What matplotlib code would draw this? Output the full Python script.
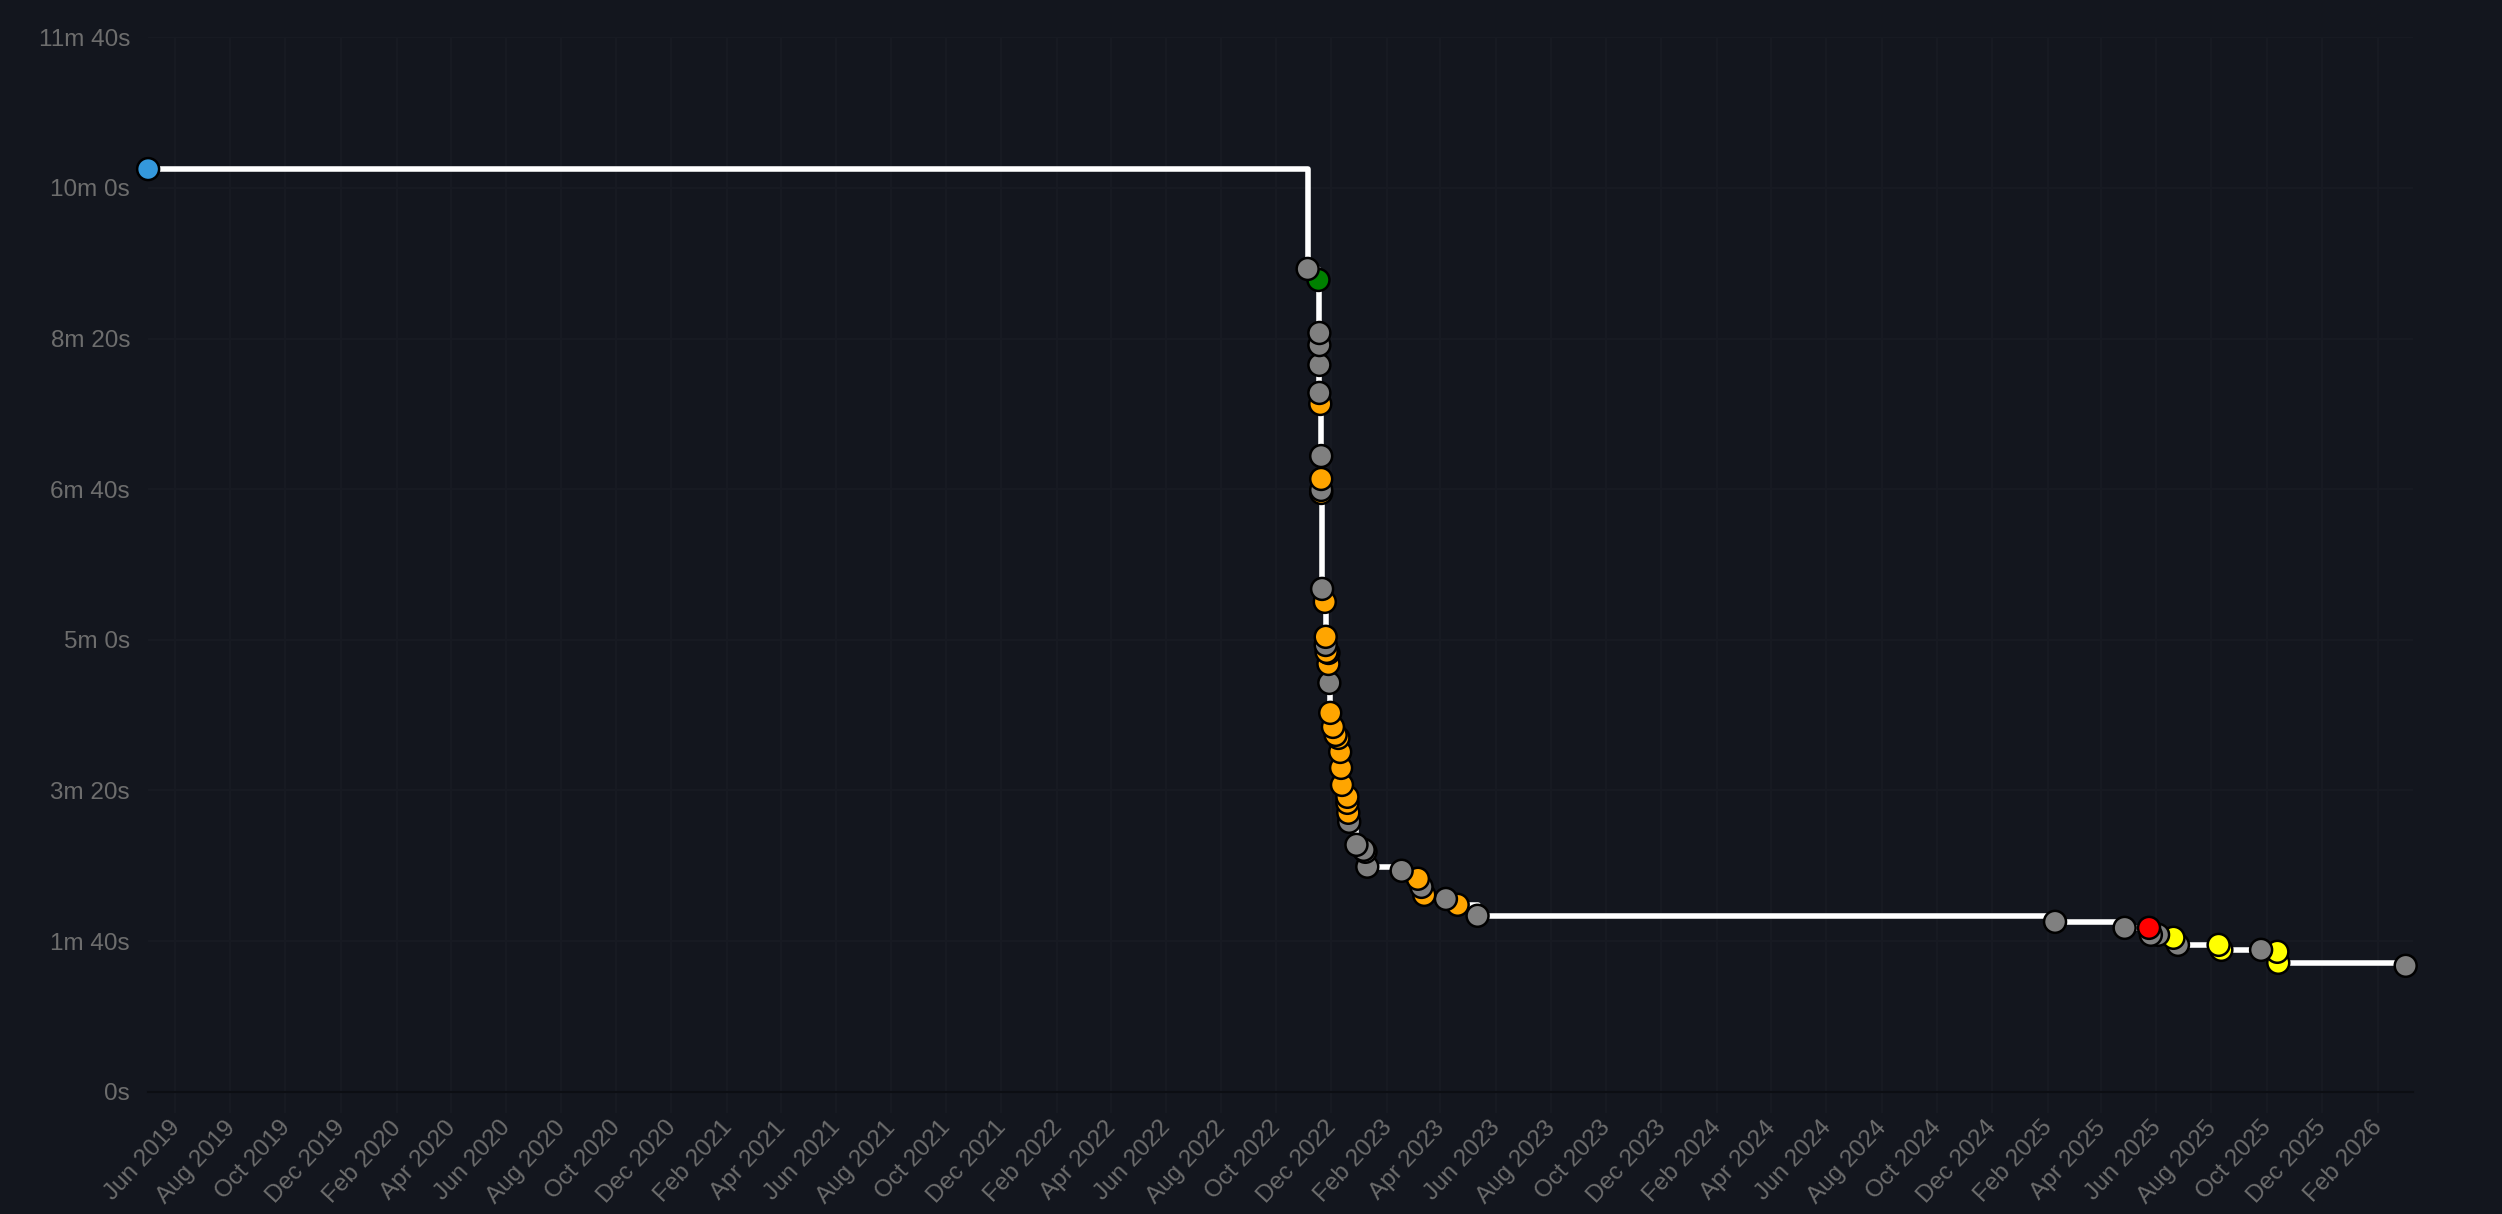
import matplotlib
matplotlib.use("Agg")
import matplotlib.pyplot as plt
import matplotlib.dates as mdates
import matplotlib.transforms as mtransforms
from matplotlib.ticker import FuncFormatter, MultipleLocator
import pandas as pd

# record progression (date, time in seconds, marker colour)
dates = [
    "2019-05-02", "2022-11-05", "2022-11-17", "2022-11-18", "2022-11-18",
    "2022-11-18", "2022-11-18", "2022-11-19", "2022-11-20", "2022-11-20",
    "2022-11-20", "2022-11-20", "2022-11-21", "2022-11-24", "2022-11-25",
    "2022-11-25", "2022-11-26", "2022-11-28", "2022-11-28", "2022-11-29",
    "2022-11-30", "2022-12-03", "2022-12-06", "2022-12-09", "2022-12-11",
    "2022-12-12", "2022-12-13", "2022-12-19", "2022-12-19", "2022-12-20",
    "2022-12-21", "2022-12-29", "2023-01-06", "2023-01-08", "2023-01-10",
    "2023-02-17", "2023-03-07", "2023-03-11", "2023-03-14", "2023-04-07",
    "2023-04-20", "2023-05-12", "2025-02-09", "2025-04-27", "2025-05-24",
    "2025-05-26", "2025-06-03", "2025-06-20", "2025-06-25", "2025-08-09",
    "2025-08-12", "2025-09-25", "2025-10-13", "2025-10-14", "2026-03-04",
]
times = [
    612.5, 546.2, 538.9, 503.7, 495.7,
    482.5, 463.9, 456.6, 422.0, 406.8,
    399.5, 397.5, 333.8, 325.2, 302.0,
    296.6, 292.0, 291.3, 284.0, 271.4,
    251.5, 242.2, 236.9, 234.9, 225.6,
    215.0, 203.7, 195.8, 191.8, 185.2,
    179.2, 163.9, 160.6, 159.3, 149.4,
    146.7, 141.4, 136.0, 130.7, 128.0,
    124.1, 116.8, 112.8, 108.8, 108.8,
    104.2, 104.2, 102.2, 97.5, 97.5,
    94.2, 94.2, 92.9, 85.6, 83.6,
]
colors = [
    "#3498db", "grey", "green", "grey", "grey",
    "grey", "grey", "orange", "grey", "orange",
    "grey", "orange", "grey", "orange", "orange",
    "grey", "orange", "grey", "orange", "grey",
    "orange", "orange", "orange", "orange", "orange",
    "orange", "orange", "orange", "orange", "orange",
    "grey", "grey", "grey", "grey", "grey",
    "grey", "orange", "grey", "orange", "grey",
    "orange", "grey", "grey", "grey", "red",
    "grey", "grey", "yellow", "grey", "yellow",
    "yellow", "grey", "yellow", "yellow", "grey",
]
x_end = "2026-03-12"

bg = "#13161e"
grid_col = "#181b23"
text_col = "#6d6d6d"

plt.rcParams["font.family"] = ["Liberation Sans", "DejaVu Sans"]

x = pd.to_datetime(dates)

fig = plt.figure(figsize=(25.02, 12.14), dpi=100, facecolor=bg)
ax = fig.add_axes([0.0592, 0.1007, 0.9052, 0.8686], facecolor=bg)

ax.plot(x, times, color="white", linewidth=4, drawstyle="steps-post", zorder=2)
# earlier records sit on top of later ones
ax.scatter(x[::-1], times[::-1], c=colors[::-1], s=250, edgecolors="black",
           linewidths=1.8, zorder=3, clip_on=False)

ax.set_xlim(x[0], pd.Timestamp(x_end))
ax.set_ylim(0, 700)

ax.xaxis.set_major_locator(mdates.MonthLocator(bymonth=[2, 4, 6, 8, 10, 12]))
ax.xaxis.set_major_formatter(mdates.DateFormatter("%b %Y"))
ax.yaxis.set_major_locator(MultipleLocator(100))


def fmt_time(v, pos):
    v = int(round(v))
    m, s = divmod(v, 60)
    return f"{m}m {s}s" if m else f"{s}s"


ax.yaxis.set_major_formatter(FuncFormatter(fmt_time))

ax.grid(True, color=grid_col, linewidth=1.2, zorder=0)
for sp in ["top", "right", "left"]:
    ax.spines[sp].set_visible(False)
ax.spines["bottom"].set_color("#0c0e13")
ax.spines["bottom"].set_linewidth(1.5)

ax.tick_params(axis="x", colors=grid_col, length=15, width=1.2,
               labelcolor=text_col, labelsize=17.5, pad=3)
ax.tick_params(axis="y", length=0, labelcolor=text_col, labelsize=17.5, pad=13)
shift = mtransforms.ScaledTranslation(-0.07, 0, fig.dpi_scale_trans)
for lbl in ax.get_xticklabels():
    lbl.set_rotation(47)
    lbl.set_ha("right")
    lbl.set_rotation_mode("anchor")
    lbl.set_transform(lbl.get_transform() + shift)

fig.savefig("out.png", dpi=100, facecolor=bg)
